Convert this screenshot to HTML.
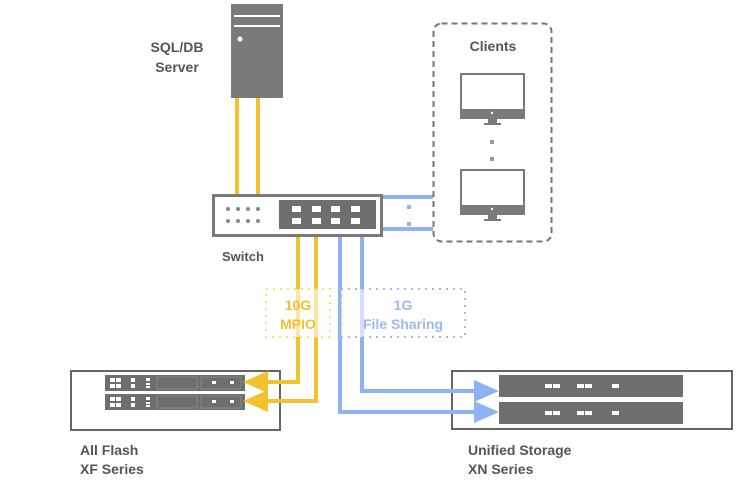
<!DOCTYPE html>
<html><head><style>body{margin:0;background:#fff}svg{display:block}text{font-family:"Liberation Sans",sans-serif;font-weight:bold}</style></head><body>
<svg width="750" height="498" viewBox="0 0 750 498">
<!-- server -->
<rect x="231" y="4" width="52" height="94" fill="#7a7a7a"/>
<rect x="234" y="15" width="46" height="2" fill="#fff"/>
<rect x="234" y="25" width="46" height="2" fill="#fff"/>
<circle cx="240" cy="39" r="2.5" fill="#fff"/>
<text x="177" y="52" font-size="14" fill="#555" text-anchor="middle">SQL/DB</text>
<text x="177" y="72" font-size="14" fill="#555" text-anchor="middle">Server</text>
<!-- left storage -->
<rect x="71" y="371" width="209" height="59" fill="#fff" stroke="#666" stroke-width="2"/>
<g id="xf"><rect x="105" y="375" width="140" height="16" fill="#6e6e6e"/>
<g fill="#fff"><rect x="110" y="378" width="5" height="4"/><rect x="116" y="378" width="5" height="4"/><rect x="110" y="384" width="5" height="4"/><rect x="116" y="384" width="5" height="4"/><rect x="131" y="378" width="4" height="4"/><rect x="131" y="384" width="4" height="4"/><rect x="146" y="378" width="4" height="3"/><rect x="146" y="383" width="4" height="2"/><rect x="146" y="386" width="4" height="2"/><rect x="212" y="381" width="4" height="3"/><rect x="230" y="381" width="4" height="3"/></g>
<rect x="157" y="377" width="40" height="12" fill="none" stroke="#888"/><rect x="201" y="377" width="40" height="12" fill="none" stroke="#888"/></g>
<use href="#xf" y="19"/>
<text x="80" y="455" font-size="14" fill="#555">All Flash</text>
<text x="80" y="474" font-size="14" fill="#555">XF Series</text>
<!-- right storage -->
<rect x="452" y="371" width="280" height="58" fill="#fff" stroke="#666" stroke-width="2"/>
<g id="xn"><rect x="499" y="375" width="184" height="22" fill="#6e6e6e"/>
<g fill="#fff"><rect x="545" y="384" width="7" height="4"/><rect x="553" y="384" width="7" height="4"/><rect x="577" y="384" width="7" height="4"/><rect x="585" y="384" width="7" height="4"/><rect x="612" y="384" width="7" height="4"/></g></g>
<use href="#xn" y="27"/>
<text x="468" y="455" font-size="14" fill="#555">Unified Storage</text>
<text x="468" y="474" font-size="14" fill="#555">XN Series</text>
<!-- connectors -->
<g stroke="#f2c12e" stroke-width="4" fill="none">
<line x1="237" y1="98" x2="237" y2="195"/><line x1="258" y1="98" x2="258" y2="195"/>
<polyline points="298,236 298,382 265,382"/><polyline points="316,236 316,401 265,401"/>
</g>
<polygon points="243,382 268,371 268,393" fill="#f2c12e"/>
<polygon points="243,401 268,390 268,412" fill="#f2c12e"/>
<g stroke="#8fb2f5" stroke-width="4" fill="none">
<polyline points="362,236 362,391 478,391"/><polyline points="340,236 340,412 478,412"/>
<line x1="383" y1="197" x2="433" y2="197"/><line x1="383" y1="229" x2="433" y2="229"/>
</g>
<polygon points="499,391 474,380 474,402" fill="#8fb2f5"/>
<polygon points="499,412 474,401 474,423" fill="#8fb2f5"/>
<rect x="407" y="205" width="4" height="4" fill="#8fb2f5"/><rect x="407" y="222" width="4" height="4" fill="#8fb2f5"/>
<!-- switch -->
<rect x="213.5" y="195.5" width="168" height="40" fill="#fff" stroke="#7a7a7a" stroke-width="3"/>
<rect x="279" y="200" width="97" height="29" fill="#6e6e6e"/>
<g fill="#888"><circle cx="228" cy="209" r="2"/><circle cx="238" cy="209" r="2"/><circle cx="248" cy="209" r="2"/><circle cx="258" cy="209" r="2"/><circle cx="228" cy="221" r="2"/><circle cx="238" cy="221" r="2"/><circle cx="248" cy="221" r="2"/><circle cx="258" cy="221" r="2"/></g>
<g fill="#fff"><rect x="292" y="206" width="9" height="6"/><rect x="312" y="206" width="9" height="6"/><rect x="331" y="206" width="9" height="6"/><rect x="351" y="206" width="9" height="6"/><rect x="292" y="218" width="9" height="6"/><rect x="312" y="218" width="9" height="6"/><rect x="331" y="218" width="9" height="6"/><rect x="351" y="218" width="9" height="6"/></g>
<text x="222" y="261" font-size="13" fill="#555">Switch</text>
<!-- labels -->
<rect x="266" y="289" width="64" height="48" fill="rgba(255,255,255,0.6)" stroke="#f5e56a" stroke-width="2" stroke-dasharray="2 5"/>
<rect x="341" y="289" width="124" height="48" fill="rgba(255,255,255,0.6)" stroke="#a9b6e0" stroke-width="2" stroke-dasharray="2 5"/>
<text x="298" y="310" font-size="14" fill="#f2c12e" text-anchor="middle">10G</text>
<text x="298" y="329" font-size="14" fill="#f2c12e" text-anchor="middle">MPIO</text>
<text x="403" y="310" font-size="14" fill="#9db8f2" text-anchor="middle">1G</text>
<text x="403" y="329" font-size="14" fill="#9db8f2" text-anchor="middle">File Sharing</text>
<!-- clients -->
<rect x="433.5" y="23.5" width="118" height="218" rx="8" fill="none" stroke="#777" stroke-width="2" stroke-dasharray="6 4"/>
<text x="493" y="51" font-size="14" fill="#555" text-anchor="middle">Clients</text>
<g id="mon"><rect x="461" y="74" width="63" height="44" fill="#fff" stroke="#7a7a7a" stroke-width="2"/><rect x="461" y="109" width="63" height="9" fill="#7a7a7a"/><circle cx="492" cy="113" r="1.2" fill="#fff"/><rect x="488" y="118" width="9" height="6" fill="#7a7a7a"/><rect x="484" y="123" width="17" height="2" fill="#7a7a7a"/></g>
<use href="#mon" y="96"/>
<rect x="490" y="140" width="4" height="4" fill="#999"/><rect x="490" y="157" width="4" height="4" fill="#999"/>
</svg>
</body></html>
